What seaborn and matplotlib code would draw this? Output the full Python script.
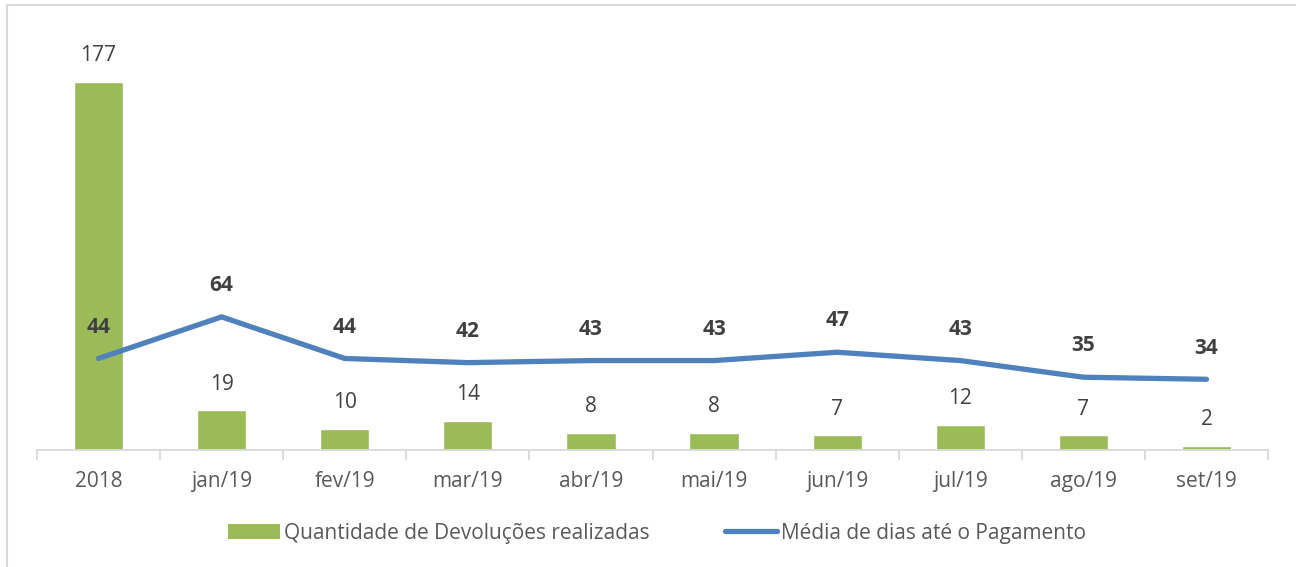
import matplotlib
matplotlib.use("Agg")
import matplotlib.pyplot as plt
import seaborn as sns
import pandas as pd
from matplotlib.lines import Line2D
from matplotlib.patches import Patch, Rectangle

categories = ["2018", "jan/19", "fev/19", "mar/19", "abr/19", "mai/19",
              "jun/19", "jul/19", "ago/19", "set/19"]
devolucoes = [177, 19, 10, 14, 8, 8, 7, 12, 7, 2]
media_dias = [44, 64, 44, 42, 43, 43, 47, 43, 35, 34]

bar_name = "Quantidade de Devoluções realizadas"
line_name = "Média de dias até o Pagamento"

GREEN = "#9BBB59"
BLUE = "#4F81BD"
AXIS = "#D9D9D9"
FS = 15

sns.set_theme(style="white")
plt.rcParams["font.family"] = ["Open Sans", "DejaVu Sans"]

df = pd.DataFrame({"cat": categories, "dev": devolucoes, "media": media_dias})
df["x"] = range(len(categories))

fig = plt.figure(figsize=(12.96, 5.67), dpi=100)
ax = fig.add_axes([37/1296, 1 - 450/567, (1268-37)/1296, (450-34)/567])

sns.barplot(data=df, x="cat", y="dev", color=GREEN, width=0.4,
            saturation=1, ax=ax, order=categories)
sns.lineplot(data=df, x="x", y="media", color=BLUE, linewidth=3.8,
             ax=ax, solid_capstyle="round", solid_joinstyle="round")

ax.set_xlim(-0.5, len(categories) - 0.5)
ax.set_ylim(0, 200)
ax.set_xlabel("")
ax.set_ylabel("")
ax.set_yticks([])
ax.set_xticks(range(len(categories)))
ax.set_xticklabels(categories, fontsize=FS, color="#595959")
ax.tick_params(axis="x", which="major", length=0, pad=15)
ax.set_xticks([i - 0.5 for i in range(len(categories) + 1)], minor=True)
ax.tick_params(axis="x", which="minor", length=7, width=1.3, color=AXIS,
               direction="out", bottom=True)

for s in ["top", "right", "left"]:
    ax.spines[s].set_visible(False)
ax.spines["bottom"].set_color(AXIS)
ax.spines["bottom"].set_linewidth(1.3)

for xi, v in zip(df["x"], devolucoes):
    ax.annotate(str(v), (xi, v), xytext=(0, 19), textcoords="offset points",
                ha="center", va="center", fontsize=FS, color="#404040")
for xi, v in zip(df["x"], media_dias):
    ax.annotate(str(v), (xi, v), xytext=(0, 22.5), textcoords="offset points",
                ha="center", va="center", fontsize=FS, color="#404040",
                fontweight="bold")

handles = [Patch(facecolor=GREEN, edgecolor="none"),
           Line2D([0], [0], color=BLUE, linewidth=3.8, solid_capstyle="round")]
fig.legend(handles, [bar_name, line_name], loc="center",
           bbox_to_anchor=(657/1296, 1 - 533/567), ncol=2, frameon=False,
           fontsize=FS, labelcolor="#595959", handlelength=2.5,
           handleheight=0.7, handletextpad=0.2, columnspacing=3.6)

fig.patches.append(Rectangle((7/1296, -0.1), 1.2, 1 - 5/567 + 0.1,
                             transform=fig.transFigure, fill=False,
                             edgecolor=AXIS, linewidth=1.5))

fig.savefig("out.png", dpi=100)
